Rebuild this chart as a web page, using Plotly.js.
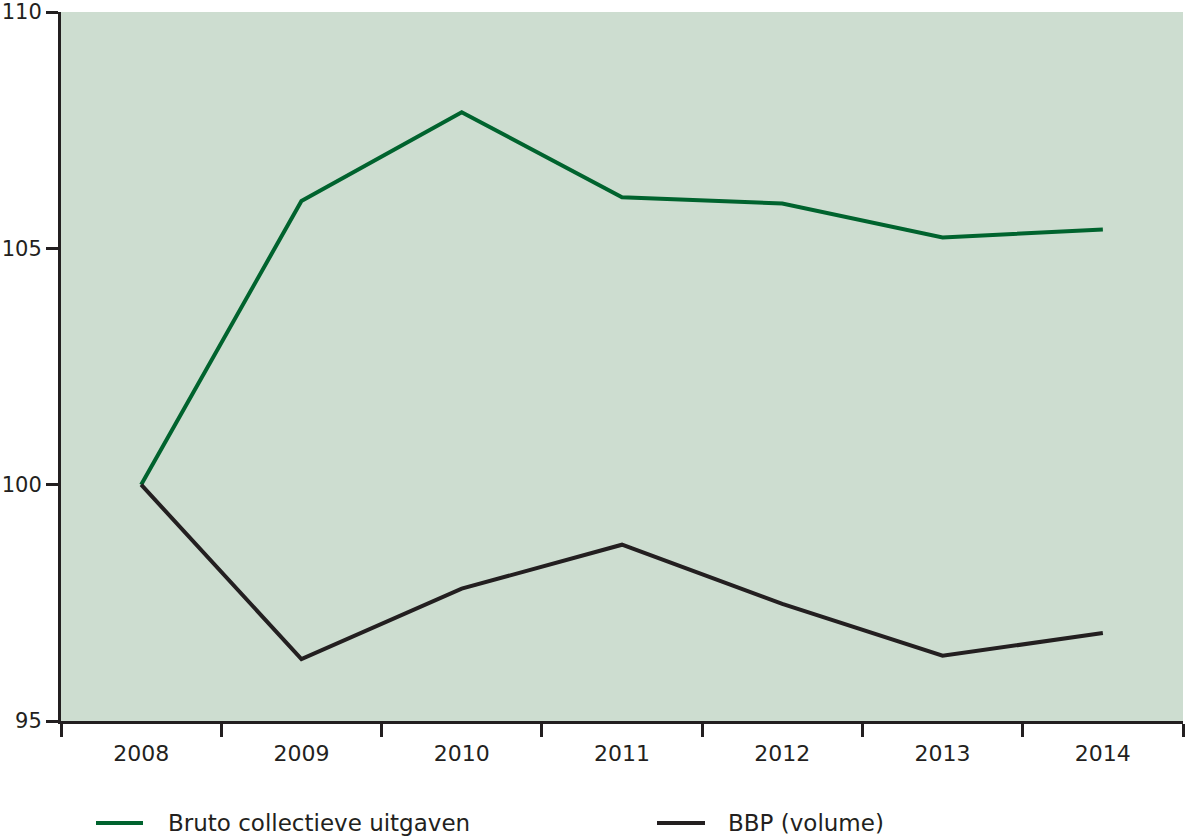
<!DOCTYPE html>
<html>
<head>
<meta charset="utf-8">
<script src="https://cdn.plot.ly/plotly-3.0.1.min.js"></script>
<style>html,body{margin:0;padding:0;background:#fff;}</style>
</head>
<body>
<div id="chart" style="width:1185px;height:838px;"></div>
<script>
var years = ['2008', '2009', '2010', '2011', '2012', '2013', '2014'];
var brutoCollectieveUitgaven = [100, 106.0, 107.88, 106.08, 105.95, 105.23, 105.40];
var bbpVolume = [100, 96.31, 97.8, 98.73, 97.48, 96.38, 96.86];
var seriesNames = ['Bruto collectieve uitgaven', 'BBP (volume)'];
var seriesColors = ['#00632e', '#231f20'];

var traces = [
  {x: years, y: brutoCollectieveUitgaven, type: 'scatter', mode: 'lines', name: seriesNames[0],
   line: {color: seriesColors[0], width: 4}},
  {x: years, y: bbpVolume, type: 'scatter', mode: 'lines', name: seriesNames[1],
   line: {color: seriesColors[1], width: 4}}
];

var fam = 'DejaVu Sans, Liberation Sans, Arial, sans-serif';
var font = {family: fam, size: 22, color: '#231f20'};
var yfont = {family: fam, size: 21, color: '#231f20'};
var lfont = {family: fam, size: 23, color: '#231f20'};

// manual legend below the plot (paper coordinates)
var W = 1185, H = 838, mL = 61, mR = 2, mT = 12, mB = 117;
var pw = W - mL - mR, ph = H - mT - mB;
function px(x) { return (x - mL) / pw; }
function py(y) { return (H - mB - y) / ph; }
var legendPos = [{x0: 96, x1: 143, tx: 166}, {x0: 657, x1: 705, tx: 726}];
var legendY = 823;
var shapes = [], annotations = [];
seriesNames.forEach(function (n, i) {
  var p = legendPos[i];
  shapes.push({type: 'line', xref: 'paper', yref: 'paper',
    x0: px(p.x0), x1: px(p.x1), y0: py(legendY), y1: py(legendY),
    line: {color: seriesColors[i], width: 4}});
  annotations.push({xref: 'paper', yref: 'paper', x: px(p.tx), y: py(legendY),
    xanchor: 'left', yanchor: 'middle', text: n, showarrow: false, font: lfont});
});

var layout = {
  width: W, height: H,
  margin: {l: mL, r: mR, t: mT, b: mB, autoexpand: false},
  paper_bgcolor: '#ffffff',
  plot_bgcolor: '#cdddd0',
  font: font,
  showlegend: false,
  shapes: shapes,
  annotations: annotations,
  xaxis: {
    type: 'category', range: [-0.5, 6.5], tickson: 'boundaries',
    ticks: 'outside', ticklen: 13, tickwidth: 3, tickcolor: '#231f20',
    showline: true, linewidth: 3, linecolor: '#231f20',
    showgrid: false, zeroline: false, fixedrange: true,
    ticklabelstandoff: 11,
    tickfont: font
  },
  yaxis: {
    range: [95, 110], dtick: 5, tick0: 95,
    ticks: 'outside', ticklen: 12, tickwidth: 3, tickcolor: '#231f20',
    showline: true, linewidth: 3, linecolor: '#231f20',
    showgrid: false, zeroline: false, fixedrange: true,
    ticklabelstandoff: 0, ticklabeloverflow: 'allow',
    tickfont: yfont
  }
};

Plotly.newPlot('chart', traces, layout, {displayModeBar: false, staticPlot: true});
</script>
</body>
</html>
